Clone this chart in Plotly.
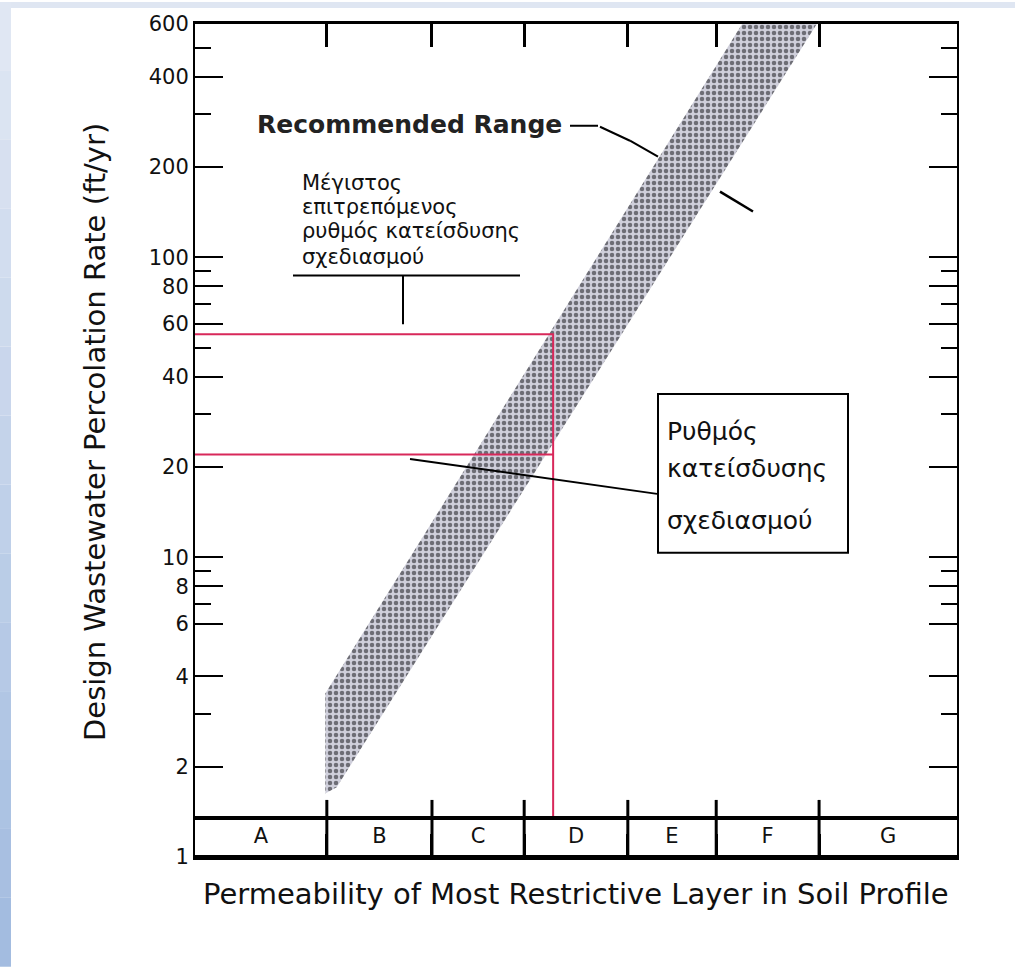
import plotly.graph_objects as go
import math

# ---------------- data ----------------
categories = ["A", "B", "C", "D", "E", "F", "G"]
class_bounds = [0.0, 1.73, 3.11, 4.32, 5.68, 6.84, 8.19, 10.0]   # permeability class limits (relative scale)
y_major = [1, 2, 4, 6, 8, 10, 20, 40, 60, 80, 100, 200, 400, 600]
y_minor = [3, 7, 9, 30, 50, 70, 90, 300, 500]
# recommended range band (outline)
band_x = [1.71, 1.86, 8.16, 7.18, 1.71, 1.71]
band_y = [1.63, 1.71, 600, 600, 3.51, 1.63]
# design example
design_x = 4.70
max_rate = 55.4
design_rate = 22.0
row_top = 1.35
row_label_y = 1.16
divider_top = 1.55

# ---------------- geometry helpers (layout only) ----------------
W, H = 1015, 967
L, R, T, B = 195, 58, 22, 110
PW, PH = W - L - R, H - T - B


def px(x):
    return (x - L) / PW


def py(y):
    return (H - B - y) / PH


FONT = "DejaVu Sans"
INK = "#111111"
RED = "#d8285a"

fig = go.Figure()

# band
fig.add_trace(go.Scatter(
    x=band_x, y=band_y, mode="lines", fill="toself",
    line=dict(width=0, color="rgba(0,0,0,0)"),
    fillcolor="#c4c4d0",
    fillpattern=dict(shape=".", bgcolor="#cfcfdb", fgcolor="#0c0c10", size=6, solidity=0.45),
    hoverinfo="skip", showlegend=False))

# red design lines
fig.add_trace(go.Scatter(x=[0, design_x, design_x], y=[max_rate, max_rate, row_top],
                         mode="lines", line=dict(color=RED, width=2), showlegend=False))
fig.add_trace(go.Scatter(x=[0, design_x], y=[design_rate, design_rate],
                         mode="lines", line=dict(color=RED, width=2), showlegend=False))

# category row
fig.add_trace(go.Scatter(x=[class_bounds[0], class_bounds[-1]], y=[row_top, row_top],
                         mode="lines", line=dict(color="black", width=4), showlegend=False))
fig.add_trace(go.Scatter(x=[class_bounds[0], class_bounds[-1]], y=[1, 1],
                         mode="lines", line=dict(color="black", width=4), showlegend=False))
dx, dy = [], []
for b in class_bounds[1:-1]:
    dx += [b, b, None]
    dy += [1, divider_top, None]
fig.add_trace(go.Scatter(x=dx, y=dy, mode="lines", line=dict(color="black", width=3), showlegend=False))
centers = [(a + b) / 2 for a, b in zip(class_bounds[:-1], class_bounds[1:])]
fig.add_trace(go.Scatter(x=centers, y=[row_label_y] * len(categories), mode="text",
                         text=categories, textfont=dict(family=FONT, size=21, color=INK),
                         showlegend=False))

fig.update_xaxes(range=[class_bounds[0], class_bounds[-1]], tickmode="array",
                 tickvals=class_bounds[1:-1], showticklabels=False,
                 ticks="inside", ticklen=23, tickwidth=3, tickcolor="black",
                 showline=True, linecolor="black", linewidth=3, mirror="ticks",
                 showgrid=False, zeroline=False)
fig.update_yaxes(type="log", range=[0, math.log10(600)], tickmode="array",
                 tickvals=y_major, ticktext=[str(v) for v in y_major],
                 ticks="inside", ticklen=28, tickwidth=2, tickcolor="black",
                 tickfont=dict(family=FONT, size=21, color=INK),
                 showline=True, linecolor="black", linewidth=2, mirror="ticks",
                 showgrid=False, zeroline=False,
                 minor=dict(tickmode="array", tickvals=y_minor, ticks="inside",
                            ticklen=16, tickwidth=2, tickcolor="black", showgrid=False))

ann = []
ann.append(dict(text="Design Wastewater Percolation Rate (ft/yr)", x=px(95), y=py(431),
                xanchor="center", yanchor="middle",
                xref="paper", yref="paper", textangle=-90, showarrow=False,
                font=dict(family=FONT, size=29, color=INK)))
ann.append(dict(text="Permeability of Most Restrictive Layer in Soil Profile", x=px(576), y=py(894),
                xanchor="center", yanchor="middle",
                xref="paper", yref="paper", showarrow=False,
                font=dict(family=FONT, size=29, color=INK)))
ann.append(dict(text="<b>Recommended Range</b>", x=px(255), y=py(123),
                xanchor="left", yanchor="middle",
                xref="paper", yref="paper", showarrow=False,
                font=dict(family=FONT, size=25, color="#222222")))
for txt, yy in [("Μέγιστος", 181), ("επιτρεπόμενος", 205), ("ρυθμός κατείσδυσης", 229), ("σχεδιασμού", 256)]:
    ann.append(dict(text=txt, x=px(300), y=py(yy), xanchor="left", yanchor="middle",
                    xref="paper", yref="paper", showarrow=False,
                    font=dict(family=FONT, size=21, color=INK)))
for txt, yy in [("Ρυθμός", 430), ("κατείσδυσης", 468), ("σχεδιασμού", 520)]:
    ann.append(dict(text=txt, x=px(665), y=py(yy), xanchor="left", yanchor="middle",
                    xref="paper", yref="paper", showarrow=False,
                    font=dict(family=FONT, size=25, color=INK)))

shapes = []


def seg(x0, y0, x1, y1, w=2, color="black"):
    shapes.append(dict(type="line", xref="paper", yref="paper",
                       x0=px(x0), y0=py(y0), x1=px(x1), y1=py(y1),
                       line=dict(color=color, width=w)))


seg(293, 274, 520, 274)
seg(403, 274, 403, 323)
seg(570, 124, 598, 124)
seg(600, 125, 630, 139)
seg(630, 139, 658, 155)
seg(720, 190, 753, 210, 2.5)
seg(410, 458, 657, 493)
shapes.append(dict(type="rect", xref="paper", yref="paper",
                   x0=px(658), y0=py(393), x1=px(848), y1=py(552),
                   line=dict(color="black", width=2)))

# slide frame (light blue strips)
shapes.append(dict(type="rect", xref="paper", yref="paper", x0=px(0), x1=px(W), y0=py(0), y1=py(6),
                   line=dict(width=0), fillcolor="#dfe6f2", layer="below"))
steps = 14
c0 = (0xe0, 0xe7, 0xf3)
c1 = (0xa3, 0xbc, 0xe0)
for i in range(steps):
    t = i / (steps - 1)
    c = tuple(int(round(a + (b - a) * t)) for a, b in zip(c0, c1))
    shapes.append(dict(type="rect", xref="paper", yref="paper",
                       x0=px(0), x1=px(11), y0=py(H * i / steps), y1=py(H * (i + 1) / steps),
                       line=dict(width=0), fillcolor="rgb(%d,%d,%d)" % c, layer="below"))

fig.update_layout(width=W, height=H, margin=dict(l=L, r=R, t=T, b=B, pad=0),
                  paper_bgcolor="white", plot_bgcolor="white", showlegend=False,
                  annotations=ann, shapes=shapes)

fig.write_html("out.html", config={"displayModeBar": False},
               post_script="document.body.style.margin='0';document.body.style.overflow='hidden';")
